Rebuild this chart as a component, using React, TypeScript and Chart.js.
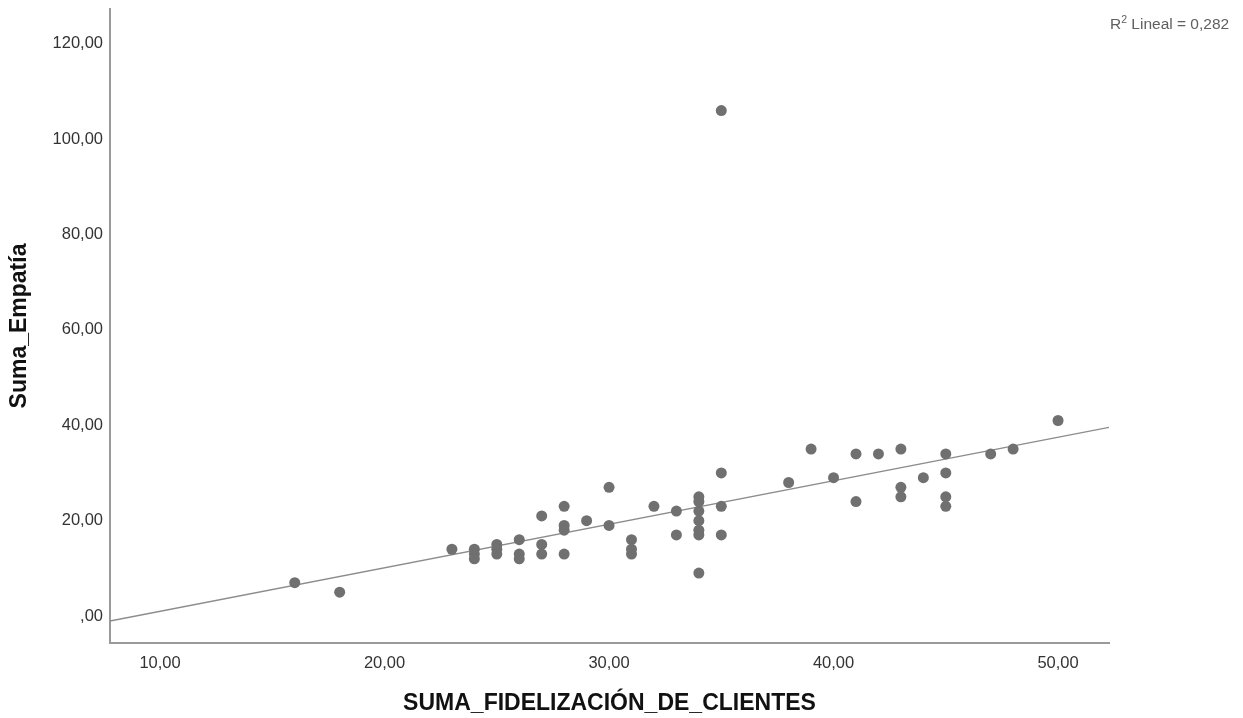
import React, { useEffect, useRef } from "react";
import { Chart, registerables } from "chart.js";

Chart.register(...registerables);

// Data
const fidelizacion: number[] = [
  16, 18, 23, 24, 24, 24, 25, 25, 25, 26, 26, 26, 27, 27, 27, 28, 28, 28, 28, 29,
  30, 30, 31, 31, 31, 32, 33, 33, 34, 34, 34, 34, 34, 34, 34, 35, 35, 35, 35, 38,
  39, 40, 41, 41, 42, 43, 43, 43, 44, 45, 45, 45, 45, 47, 48, 50,
];
const empatia: number[] = [
  7, 5, 14, 14, 13, 12, 15, 14, 13, 16, 13, 12, 21, 15, 13, 23, 19, 18, 13, 20,
  27, 19, 16, 14, 13, 23, 22, 17, 25, 24, 22, 20, 18, 17, 9, 106, 30, 23, 17, 28,
  35, 29, 34, 24, 34, 35, 27, 25, 29, 34, 30, 25, 23, 34, 35, 41,
];

// Fit line (R² Lineal = 0,282)
const fitIntercept = -8.14;
const fitSlope = 0.9126;
const r2Label = "0,282";

const xTickValues: number[] = [10, 20, 30, 40, 50];
const yTickValues: number[] = [0, 20, 40, 60, 80, 100, 120];
const X_MIN = 7.77;
const X_MAX = 52.27;
const Y_MIN = -5.66;
const Y_MAX = 127.3;

const xTitle = "SUMA_FIDELIZACIÓN_DE_CLIENTES";
const yTitle = "Suma_Empatía";

const fmt = (v: number) => (v === 0 ? ",00" : v.toFixed(2).replace(".", ","));

const FONT = "'Liberation Sans', Arial, sans-serif";

export default function App() {
  const ref = useRef<HTMLCanvasElement | null>(null);

  useEffect(() => {
    document.body.style.margin = "0";
    const canvas = ref.current;
    if (!canvas) return;

    const points = fidelizacion.map((x, i) => ({ x, y: empatia[i] }));
    const fit = [X_MIN, X_MAX].map((x) => ({ x, y: fitIntercept + fitSlope * x }));

    const r2Plugin = {
      id: "r2label",
      afterDraw(chart: any) {
        const ctx = chart.ctx as CanvasRenderingContext2D;
        ctx.save();
        ctx.fillStyle = "#606060";
        ctx.textBaseline = "alphabetic";
        ctx.textAlign = "left";
        let x = 1110;
        const y = 29;
        ctx.font = `15.5px ${FONT}`;
        ctx.fillText("R", x, y);
        x += ctx.measureText("R").width;
        ctx.font = `10.5px ${FONT}`;
        ctx.fillText("2", x, y - 6);
        x += ctx.measureText("2").width;
        ctx.font = `15.5px ${FONT}`;
        ctx.fillText(` Lineal = ${r2Label}`, x, y);
        ctx.restore();
      },
    };

    const axisColor = "#9a9a9a";

    const chart = new Chart(canvas, {
      type: "scatter",
      data: {
        datasets: [
          {
            data: points,
            backgroundColor: "#707070",
            borderWidth: 0,
            pointRadius: 5.5,
            pointHoverRadius: 5.5,
            order: 1,
          },
          {
            data: fit,
            showLine: true,
            borderColor: "#8c8c8c",
            borderWidth: 1.3,
            pointRadius: 0,
            fill: false,
            order: 2,
          } as any,
        ],
      },
      options: {
        responsive: false,
        animation: false,
        layout: { padding: { top: 9, right: 134, left: 0, bottom: 0 } },
        plugins: { legend: { display: false }, tooltip: { enabled: false } },
        scales: {
          x: {
            type: "linear",
            min: X_MIN,
            max: X_MAX,
            grid: { display: false, drawTicks: false },
            border: { display: true, color: axisColor, width: 2 },
            ticks: {
              padding: 11,
              color: "#333",
              font: { family: FONT, size: 16.5 },
              callback: (v: any) => fmt(Number(v)),
            },
            afterBuildTicks: (s: any) => {
              s.ticks = xTickValues.map((value) => ({ value }));
            },
            afterFit: (s: any) => {
              s.height = 75;
              s.paddingLeft = 0;
              s.paddingRight = 0;
            },
            title: {
              display: true,
              text: xTitle,
              color: "#111",
              font: { family: FONT, size: 23, weight: "bold" },
              padding: { top: 0, bottom: 1 },
            },
          },
          y: {
            type: "linear",
            min: Y_MIN,
            max: Y_MAX,
            grid: { display: false, drawTicks: false },
            border: { display: true, color: axisColor, width: 2 },
            ticks: {
              padding: 7,
              color: "#333",
              font: { family: FONT, size: 16.5 },
              callback: (v: any) => fmt(Number(v)),
            },
            afterBuildTicks: (s: any) => {
              s.ticks = yTickValues.map((value) => ({ value }));
            },
            afterFit: (s: any) => {
              s.width = 110;
              s.paddingTop = 0;
              s.paddingBottom = 0;
            },
            title: {
              display: true,
              text: yTitle,
              color: "#111",
              font: { family: FONT, size: 23, weight: "bold" },
              padding: { top: 6, bottom: 0 },
            },
          },
        },
      },
      plugins: [r2Plugin],
    });

    return () => chart.destroy();
  }, []);

  return (
    <div style={{ width: 1243, height: 718 }}>
      <canvas ref={ref} width={1243} height={718} style={{ display: "block" }} />
    </div>
  );
}
